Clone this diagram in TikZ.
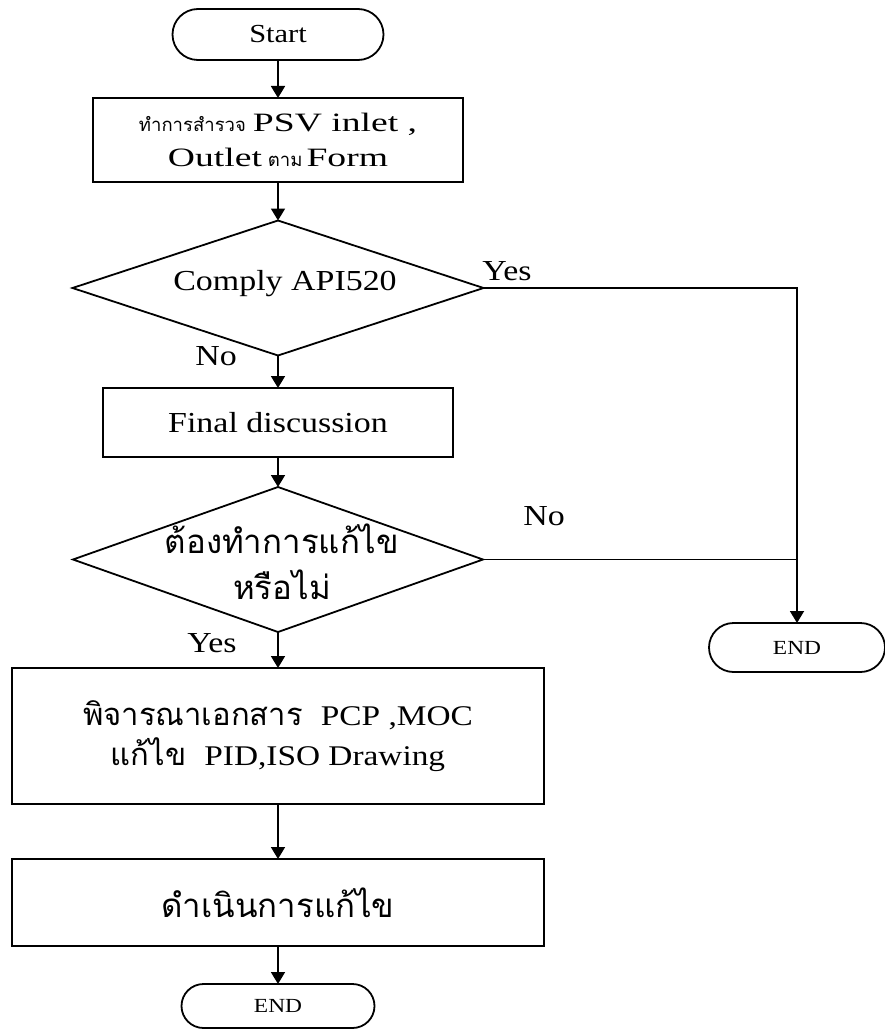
\documentclass[tikz,border=0pt]{standalone}
\usepackage{fontspec}
\setmainfont{Liberation Serif}
\newfontfamily\lat{Liberation Serif}[FakeStretch=1.17]
\newfontfamily\latw{Liberation Serif}[FakeStretch=1.42]
\newfontfamily\thai[Script=Thai]{Loma}
\usetikzlibrary{shapes.geometric,shapes.misc,arrows.meta}

\begin{document}
\begin{tikzpicture}[x=1pt,y=-1pt,
  every node/.style={inner sep=0pt,outer sep=0pt},
  line/.style={line width=1.8pt},
  arr/.style={line width=1.8pt,-{Triangle[length=12pt,width=14pt]}},
  procbox/.style={draw,line width=1.8pt,rectangle},
  term/.style={draw,line width=1.8pt,rounded rectangle},
  decision/.style={draw,line width=1.8pt,diamond},
  lbl/.style={font=\lat\fontsize{29}{34}\selectfont},
  endlbl/.style={font=\lat\fontsize{20}{24}\selectfont},
  thbig/.style={font=\thai\fontsize{33}{46}\selectfont}
]
\useasboundingbox (0,0) rectangle (884,1030);

% main column
\node[term,minimum width=211pt,minimum height=51pt,font=\lat\fontsize{26}{30}\selectfont]
  (start) at (278,34.5) {Start\hspace{28pt}};
\node[procbox,minimum width=370pt,minimum height=84pt,align=center,
      font=\latw\fontsize{26.5}{35}\selectfont]
  (survey) at (278,140)
  {{\thai\fontsize{18.5}{35}\selectfont ทำการสำรวจ}\hspace{7pt}PSV inlet ,\\
   Outlet\hspace{6pt}{\thai\fontsize{18.5}{35}\selectfont ตาม}\hspace{4pt}Form};
\node[decision,minimum width=411pt,minimum height=135pt] (comply) at (278,288) {};
\node[lbl] (complytext) at (285,284) {Comply API520};
\node[procbox,minimum width=350pt,minimum height=69pt,lbl] (final) at (278,422.5) {Final discussion};
\node[decision,minimum width=410pt,minimum height=145pt] (fix) at (278,559.5) {};
\node[thbig,align=center] (fixtext) at (282,562) {ต้องทำการแก้ไข\\หรือไม่};
\node[procbox,minimum width=532pt,minimum height=136pt,align=center,
      font=\lat\fontsize{28.5}{40}\selectfont]
  (review) at (278,736)
  {{\thai\fontsize{31}{40}\selectfont พิจารณาเอกสาร}\hspace{18pt}PCP ,MOC\\
   {\thai\fontsize{31}{40}\selectfont แก้ไข}\hspace{18pt}PID,ISO Drawing};
\node[procbox,minimum width=532pt,minimum height=87pt,thbig] (act) at (278,902.5) {ดำเนินการแก้ไข};
\node[term,minimum width=193pt,minimum height=44pt,endlbl] (endb) at (278,1006) {END};

% side exit
\node[term,minimum width=176pt,minimum height=49pt,endlbl] (endr) at (797,647.5) {END};
\coordinate (corner) at (endr |- comply.east);

% connectors
\draw[arr] (start.south) -- (survey.north);
\draw[arr] (survey.south) -- (comply.north);
\draw[arr] (comply.south) -- (final.north);
\draw[arr] (final.south) -- (fix.north);
\draw[arr] (fix.south) -- (review.north);
\draw[arr] (review.south) -- (act.north);
\draw[arr] (act.south) -- (endb.north);
\draw[arr] (comply.east) -- (corner) -- (endr.north);
\draw[line] (fix.east) -- (endr |- fix.east);

% branch labels
\node[lbl] (yes1) at (507,271) {Yes};
\node[lbl] (no1) at (216,356) {No};
\node[lbl] (no2) at (544,516) {No};
\node[lbl] (yes2) at (212,643) {Yes};
\end{tikzpicture}
\end{document}
